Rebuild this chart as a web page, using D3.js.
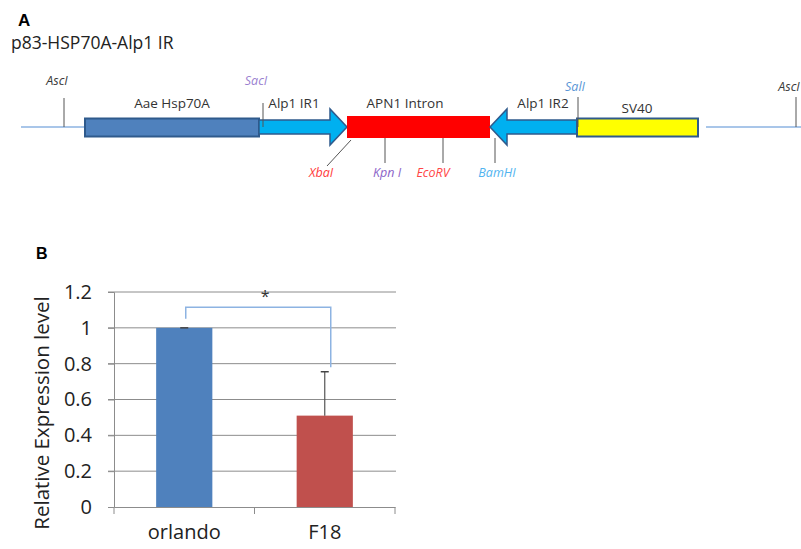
<!DOCTYPE html>
<html>
<head>
<meta charset="utf-8">
<script src="https://cdn.jsdelivr.net/npm/d3@7"></script>
<style>
  body { margin: 0; background: #fff; }
  svg { display: block; font-family: "Open Sans", sans-serif; }
</style>
</head>
<body>
<div id="chart"></div>
<script>
// ---- panel A : construct map (positions in map units) ----
var map_features = ["Aae Hsp70A", "Alp1 IR1", "APN1 Intron", "Alp1 IR2", "SV40"];
var map_starts   = [85, 259, 347, 490, 577];
var map_ends     = [259, 347, 490, 577, 698];
var map_shapes   = ["box", "arrowRight", "box", "arrowLeft", "box"];
var map_fills    = ["#4F81BD", "#00B0F0", "#FF0000", "#00B0F0", "#FFFF00"];

var site_names  = ["AscI", "SacI", "XbaI", "Kpn I", "EcoRV", "BamHI", "SalI", "AscI"];
var site_pos    = [64, 263, 349, 385, 443, 495, 578, 796];
var site_sides  = ["top", "top", "diag", "bottom", "bottom", "bottom", "top", "top"];
var site_colors = ["#3a3a3a", "#9a7fd0", "#ff3b3b", "#8a63c8", "#ff4646", "#52b4f0", "#5a96d6", "#3a3a3a"];

// ---- panel B : bar chart ----
var categories = ["orlando", "F18"];
var values     = [1.0, 0.51];
var errors     = [0.0, 0.245];
var y_ticks    = [0, 0.2, 0.4, 0.6, 0.8, 1, 1.2];
var bar_colors = ["#4F81BD", "#C0504D"];

var width = 801, height = 549;
var svg = d3.select("#chart").append("svg")
  .attr("width", width)
  .attr("height", height);

// ================= Panel A =================
var xm = d3.scaleLinear().domain([0, 801]).range([0, 801]);
var mid = 127;

svg.append("text").attr("x", 18).attr("y", 26)
  .attr("font-size", 17).attr("font-weight", "bold").attr("font-family", "Liberation Sans, Arial")
  .text("A");
svg.append("text").attr("x", 11).attr("y", 49)
  .attr("font-size", 17.5).attr("fill", "#222")
  .text("p83-HSP70A-Alp1 IR");

var gmap = svg.append("g");
// backbone
gmap.append("line").attr("x1", xm(21)).attr("x2", xm(map_starts[0])).attr("y1", mid).attr("y2", mid)
  .attr("stroke", "#8DB3E2").attr("stroke-width", 1.5);
gmap.append("line").attr("x1", xm(706)).attr("x2", xm(801)).attr("y1", mid).attr("y2", mid)
  .attr("stroke", "#8DB3E2").attr("stroke-width", 1.5);

map_features.forEach(function (name, i) {
  var x0 = xm(map_starts[i]), x1 = xm(map_ends[i]);
  if (map_shapes[i] === "box") {
    var h = name === "APN1 Intron" ? 22 : 18;
    gmap.append("rect")
      .attr("x", x0).attr("y", mid - h / 2 + (name === "APN1 Intron" ? 0 : 0.5))
      .attr("width", x1 - x0).attr("height", h)
      .attr("fill", map_fills[i])
      .attr("stroke", name === "APN1 Intron" ? "none" : "#2F5A8C")
      .attr("stroke-width", 2);
  } else {
    var head = 17, bh = 7, hh = 18, pts;
    if (map_shapes[i] === "arrowRight") {
      pts = [[x0, mid - bh], [x1 - head, mid - bh], [x1 - head, mid - hh], [x1, mid],
             [x1 - head, mid + hh], [x1 - head, mid + bh], [x0, mid + bh]];
    } else {
      pts = [[x1, mid - bh], [x0 + head, mid - bh], [x0 + head, mid - hh], [x0, mid],
             [x0 + head, mid + hh], [x0 + head, mid + bh], [x1, mid + bh]];
    }
    gmap.append("path")
      .attr("d", d3.line()(pts) + "Z")
      .attr("fill", map_fills[i])
      .attr("stroke", "#2F5A8C").attr("stroke-width", 1.5);
  }
});

// feature labels
var label_x = [172, 294, 405, 543, 637];
var label_y = [108, 108, 108, 108, 113];
map_features.forEach(function (name, i) {
  gmap.append("text").attr("x", xm(label_x[i])).attr("y", label_y[i])
    .attr("text-anchor", "middle").attr("font-size", 13.5).attr("fill", "#333")
    .text(name);
});

// restriction sites
site_names.forEach(function (name, i) {
  var x = xm(site_pos[i]);
  var side = site_sides[i];
  if (side === "top") {
    var far = (name === "SalI" || i === 7);
    var top = far ? 97 : (name === "SacI" ? 103 : 98);
    gmap.append("line").attr("x1", x).attr("x2", x).attr("y1", top).attr("y2", mid)
      .attr("stroke", "#555").attr("stroke-width", 1);
    var ly = far ? 91 : 85;
    gmap.append("text").attr("x", name === "SalI" ? x - 3 : x - 7).attr("y", ly)
      .attr("text-anchor", "middle").attr("font-size", 12.5).attr("font-style", "italic")
      .attr("fill", site_colors[i]).text(name);
  } else if (side === "diag") {
    gmap.append("line").attr("x1", x + 2).attr("x2", x - 22).attr("y1", 140).attr("y2", 166)
      .attr("stroke", "#555").attr("stroke-width", 1);
    gmap.append("text").attr("x", x - 28).attr("y", 177)
      .attr("text-anchor", "middle").attr("font-size", 12.5).attr("font-style", "italic")
      .attr("fill", site_colors[i]).text(name);
  } else {
    gmap.append("line").attr("x1", x).attr("x2", x).attr("y1", 138).attr("y2", 163)
      .attr("stroke", "#555").attr("stroke-width", 1);
    gmap.append("text").attr("x", name === "EcoRV" ? x - 10 : x + 2).attr("y", 177)
      .attr("text-anchor", "middle").attr("font-size", 12.5).attr("font-style", "italic")
      .attr("fill", site_colors[i]).text(name);
  }
});

// ================= Panel B =================
svg.append("text").attr("x", 36).attr("y", 259)
  .attr("font-size", 16).attr("font-weight", "bold").attr("font-family", "Liberation Sans, Arial")
  .text("B");

var x = d3.scaleBand().domain(categories).range([114, 395]);
var y = d3.scaleLinear().domain([0, 1.2]).range([507, 292]);
var g = svg.append("g");

// gridlines
g.selectAll(".grid").data(y_ticks.slice(1)).enter().append("line")
  .attr("x1", 108).attr("x2", 396)
  .attr("y1", function (d) { return y(d); }).attr("y2", function (d) { return y(d); })
  .attr("stroke", "#8c8c8c").attr("stroke-width", 1);

// y axis
var yAxis = g.append("g").attr("transform", "translate(114,0)")
  .call(d3.axisLeft(y).tickValues(y_ticks).tickSize(6).tickPadding(16)
    .tickFormat(function (d) { return d3.format("")(+d.toFixed(1)); }));
yAxis.select(".domain").attr("stroke", "#8c8c8c");
yAxis.selectAll(".tick line").attr("stroke", "#8c8c8c");
yAxis.selectAll(".tick text").attr("font-size", 20).attr("fill", "#222").attr("font-family", "Open Sans, sans-serif");

// x axis
var xAxis = g.append("g").attr("transform", "translate(0,507)")
  .call(d3.axisBottom(x).tickSize(0).tickPadding(18));
xAxis.select(".domain").attr("stroke", "#8c8c8c");
xAxis.selectAll(".tick text").attr("font-size", 20).attr("fill", "#222").attr("font-family", "Open Sans, sans-serif");
// category separators
var bounds = [x.range()[0]].concat(categories.map(function (c) { return x(c) + x.bandwidth(); }));
g.selectAll(".sep").data(bounds).enter().append("line")
  .attr("x1", function (d) { return d; }).attr("x2", function (d) { return d; })
  .attr("y1", 507).attr("y2", 514)
  .attr("stroke", "#8c8c8c");

// bars
var bw = x.bandwidth() * 0.4;
g.selectAll(".bar").data(categories).enter().append("rect")
  .attr("x", function (d) { return x(d) + (x.bandwidth() - bw) / 2; })
  .attr("y", function (d, i) { return y(values[i]); })
  .attr("width", bw)
  .attr("height", function (d, i) { return y(0) - y(values[i]); })
  .attr("fill", function (d, i) { return bar_colors[i]; });

// error bars
categories.forEach(function (c, i) {
  var cx = x(c) + x.bandwidth() / 2;
  g.append("line").attr("x1", cx).attr("x2", cx)
    .attr("y1", y(values[i])).attr("y2", y(values[i] + errors[i]))
    .attr("stroke", "#555").attr("stroke-width", 1.2);
  g.append("line").attr("x1", cx - 4).attr("x2", cx + 4)
    .attr("y1", y(values[i] + errors[i])).attr("y2", y(values[i] + errors[i]))
    .attr("stroke", "#444").attr("stroke-width", 1.5);
});

// significance bracket
var c0 = x(categories[0]) + x.bandwidth() / 2 + 1.5, c1 = x(categories[1]) + x.bandwidth() / 2 + 6;
g.append("path")
  .attr("d", d3.line()([[c0, y(values[0]) - 9], [c0, y(1.115)], [c1, y(1.115)], [c1, y(0.78)]]))
  .attr("fill", "none").attr("stroke", "#8DB3E2").attr("stroke-width", 1.5);
g.append("text").attr("x", (c0 + c1) / 2 + 7).attr("y", 302)
  .attr("text-anchor", "middle").attr("font-size", 16).attr("fill", "#333").text("*");

// y axis label
svg.append("text")
  .attr("transform", "translate(49,413) rotate(-90)")
  .attr("text-anchor", "middle").attr("font-size", 20.5).attr("fill", "#222")
  .text("Relative Expression level");
</script>
</body>
</html>
